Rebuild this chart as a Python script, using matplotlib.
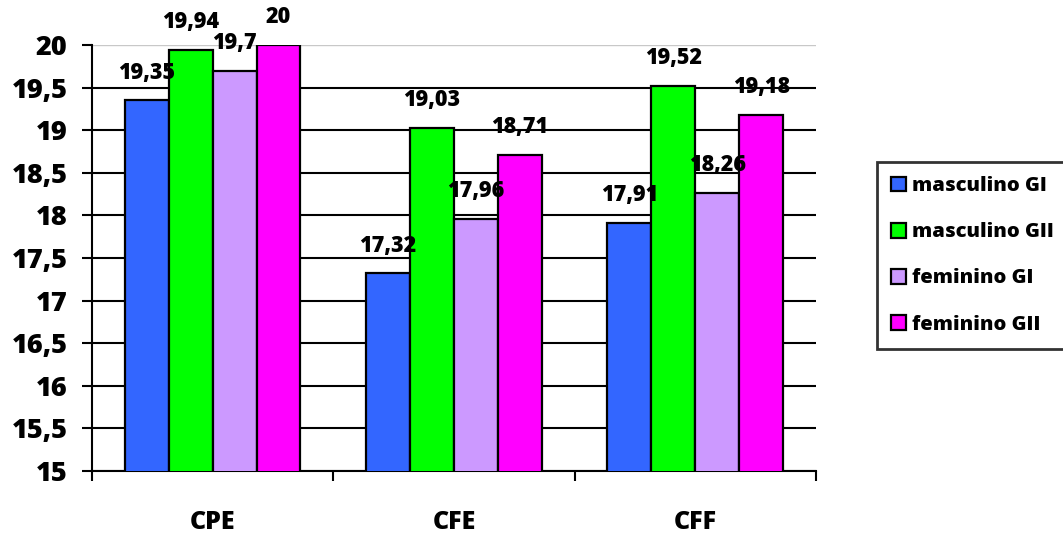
import matplotlib
matplotlib.use("Agg")
import matplotlib.pyplot as plt
from matplotlib.ticker import FuncFormatter, FixedLocator
import numpy as np

plt.rcParams["font.family"] = ["Open Sans", "DejaVu Sans"]
plt.rcParams["font.weight"] = "heavy"

categories = ["CPE", "CFE", "CFF"]
series_names = ["masculino GI", "masculino GII", "feminino GI", "feminino GII"]
masc_gi = [19.35, 17.32, 17.91]
masc_gii = [19.94, 19.03, 19.52]
fem_gi = [19.70, 17.96, 18.26]
fem_gii = [20.00, 18.71, 19.18]
label_texts = [["19,35", "17,32", "17,91"],
               ["19,94", "19,03", "19,52"],
               ["19,7", "17,96", "18,26"],
               ["20", "18,71", "19,18"]]
colors = ["#3366FF", "#00FF00", "#CC99FF", "#FF00FF"]

series = [masc_gi, masc_gii, fem_gi, fem_gii]
FW = "heavy"

fig = plt.figure(figsize=(10.63, 5.37), dpi=100)
ax = fig.add_axes([0.0865, 0.1229, 0.7676 - 0.0865, 0.9162 - 0.1229])

x = np.arange(len(categories))
w = 0.182
for k, (vals, name, col) in enumerate(zip(series, series_names, colors)):
    bars = ax.bar(x + (k - 1.5) * w, vals, width=w, bottom=0, color=col,
                  edgecolor="black", linewidth=1.6, label=name, zorder=3)
    for b, txt in zip(bars, label_texts[k]):
        ax.annotate(txt, (b.get_x() + b.get_width() / 2, b.get_height()),
                    xytext=(0, 20), textcoords="offset points",
                    ha="center", va="center", fontsize=15.5,
                    fontweight=FW, zorder=5)

ax.set_ylim(15, 20)
ax.set_xlim(-0.5, 2.5)
ax.set_yticks(np.arange(15, 20.01, 0.5))
ax.yaxis.set_major_formatter(FuncFormatter(lambda v, p: f"{v:g}".replace(".", ",")))
ax.tick_params(axis="y", length=7.5, width=1.5, labelsize=19.5, pad=10)
for t in ax.get_yticklabels():
    t.set_fontweight(FW)

ax.set_xticks(x)
ax.set_xticklabels(categories, fontsize=18, fontweight=FW)
ax.tick_params(axis="x", which="major", length=0, pad=28)
ax.xaxis.set_minor_locator(FixedLocator([-0.5, 0.5, 1.5, 2.5]))
ax.tick_params(axis="x", which="minor", length=7.5, width=1.5)

# gridlines: black, the top one light grey
ax.yaxis.grid(True, color="black", linewidth=1.5, zorder=0)
ax.get_ygridlines()[-1].set_color("#c8c8c8")
ax.get_ygridlines()[-1].set_linewidth(1.0)
ax.set_axisbelow(True)

for s in ["top", "right"]:
    ax.spines[s].set_visible(False)
for s in ["left", "bottom"]:
    ax.spines[s].set_linewidth(1.5)

leg = fig.legend(loc="upper left", bbox_to_anchor=(877 / 1063, 1 - 162 / 537),
                 prop={"size": 14.5, "weight": FW}, frameon=True, fancybox=False,
                 handlelength=0.75, handleheight=0.75, handletextpad=0.3,
                 labelspacing=1.3, borderpad=0.7, borderaxespad=0)
leg.get_frame().set_edgecolor("black")
leg.get_frame().set_linewidth(2)
for h in leg.legend_handles:
    h.set_linewidth(1.6)

fig.savefig("out.png", dpi=100)
